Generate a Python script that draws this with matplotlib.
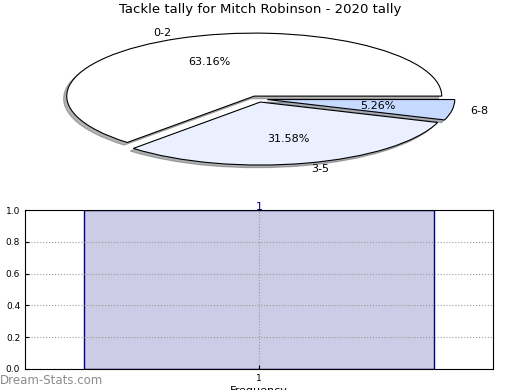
import matplotlib
matplotlib.use("Agg")
import matplotlib.pyplot as plt

# pie data
pie_labels = ["0-2", "3-5", "6-8"]
pie_values = [63.16, 31.58, 5.26]
pie_colors = ["#ffffff", "#eaf0ff", "#c6d9ff"]

# bar data
bar_x = [1]
bar_heights = [1]
bar_ticks = ["1"]
y_ticks = [0.0, 0.2, 0.4, 0.6, 0.8, 1.0]

fig = plt.figure(figsize=(5.2, 3.9), dpi=100)

fig.text(0.5, 1 - 10 / 390, "Tackle tally for Mitch Robinson - 2020 tally",
         ha="center", va="center", fontsize=9.5)

# top: squashed pie
ax1 = fig.add_axes([0.0, 1 - 180 / 390, 1.0, 160 / 390])
ax1.pie(pie_values, labels=pie_labels, colors=pie_colors, autopct="%.2f%%",
        explode=[0.05] * len(pie_values),
        shadow={"ox": -0.012, "oy": -0.03, "shade": 0.6}, startangle=0,
        wedgeprops={"edgecolor": "black", "linewidth": 0.8},
        textprops={"fontsize": 8})
ax1.set_aspect("auto")
ax1.set_xlim(-258 / 187.5, 262 / 187.5)
ax1.set_ylim(-(180 - 99) / 63, (99 - 20) / 63)
ax1.axis("off")

# bottom: frequency bar
ax2 = fig.add_axes([25 / 520, 1 - 369 / 390, 468 / 520, 159 / 390])
bars = ax2.bar(bar_x, bar_heights, width=0.8, color="#ccccE6",
               edgecolor="#000080", linewidth=1)
for b, h in zip(bars, bar_heights):
    ax2.text(b.get_x() + b.get_width() / 2, h - 0.01, str(h), ha="center",
             va="bottom", color="#000080", fontsize=8)
ax2.set_xlim(0.465, 1.535)
ax2.set_ylim(0, 1)
ax2.set_xticks(bar_x)
ax2.set_xticklabels(bar_ticks)
ax2.set_yticks(y_ticks)
ax2.set_yticklabels([f"{v:.1f}" for v in y_ticks])
ax2.tick_params(labelsize=6.5, direction="in", length=3)
ax2.grid(True, linestyle=":", color="#999999", linewidth=0.8)
ax2.set_axisbelow(False)
for s in ax2.spines.values():
    s.set_zorder(5)
ax2.set_xlabel("Frequency", fontsize=8, labelpad=2)
ax2.set_ylabel("Stat Intervals", fontsize=8, labelpad=2)

fig.text(0.0, 1 - 387 / 390, "Dream-Stats.com", color="#8c8c8c",
         fontsize=8.5, ha="left", va="bottom")

fig.savefig("out.png", dpi=100)
